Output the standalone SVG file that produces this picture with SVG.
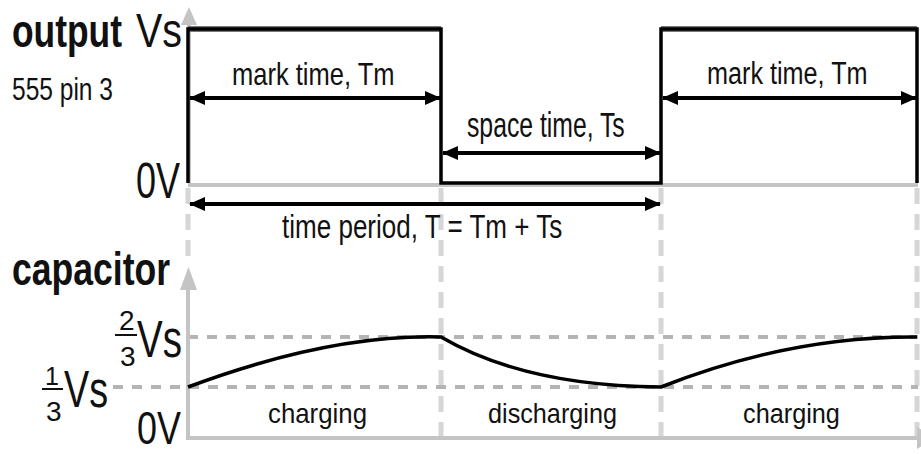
<svg xmlns="http://www.w3.org/2000/svg" width="921" height="454" viewBox="0 0 921 454">
<style>
text{font-family:"Liberation Sans",Arial,sans-serif;fill:#111}
.b{font-weight:bold}
.axis{stroke:#c4c4c4;stroke-width:4;fill:none}
.axfill{fill:#c4c4c4}
.vdash{stroke:#d6d6d6;stroke-width:5;stroke-dasharray:16 10;fill:none}
.hdash{stroke:#b4b4b4;stroke-width:4;stroke-dasharray:10 9;fill:none}
.wave{fill:none;stroke:#000;stroke-width:3.5;stroke-linejoin:miter}
.halo{fill:none;stroke:#777;stroke-width:6}
.dim{stroke:#000;stroke-width:4;fill:none}
</style>
<defs>
<marker id="ah" markerUnits="userSpaceOnUse" markerWidth="16" markerHeight="16" viewBox="0 0 16 16" refX="15" refY="8" orient="auto-start-reverse">
<path d="M0,1 L16,8 L0,15 Z" fill="#000"/>
</marker>
</defs>

<g id="grid">
<path class="vdash" d="M188,188 V266 M441,188 V436 M661,188 V436 M917,188 V436"/>
<path class="hdash" d="M188,337 H918 M113,387 H918"/>
</g>

<g id="output-axes">
<line class="axis" x1="188" y1="185" x2="918" y2="185" stroke-width="3"/>
<line class="axis" x1="189" y1="22" x2="189" y2="183"/>
<polygon class="axfill" points="181,25 197,25 189,7"/>
</g>

<g id="capacitor-axes">
<line class="axis" x1="188" y1="288" x2="188" y2="438"/>
<polygon class="axfill" points="180,290 197,290 188.5,267"/>
<line class="axis" x1="186" y1="438" x2="918" y2="438" stroke-width="5"/>
<polygon class="axfill" points="917,427 917,449 935,438"/>
</g>

<g id="output-wave">
<path class="halo" d="M188,29 H441 M661,29 H917"/>
<path class="wave" d="M188,183 V29 H441 V183 H661 V29 H917 V183"/>
</g>

<g id="capacitor-wave">
<path class="wave" stroke-width="4" d="M188,387 Q330,334 441,337 Q525,386 661,387 Q790,336 917,337"/>
</g>

<g id="connectors">
<line class="dim" x1="190" y1="98" x2="440" y2="98" marker-start="url(#ah)" marker-end="url(#ah)"/>
<line class="dim" x1="443" y1="153" x2="660" y2="153" marker-start="url(#ah)" marker-end="url(#ah)"/>
<line class="dim" x1="663" y1="98" x2="916" y2="98" marker-start="url(#ah)" marker-end="url(#ah)"/>
<line class="dim" x1="190" y1="204" x2="660" y2="204" marker-start="url(#ah)" marker-end="url(#ah)"/>
</g>

<g id="labels">
<text class="b" font-size="46" transform="translate(12,47) scale(0.769,1)">output</text>
<text font-size="49" transform="translate(136,47) scale(0.804,1)">Vs</text>
<text font-size="31" transform="translate(12,100) scale(0.792,1)">555 pin 3</text>
<text font-size="50" transform="translate(136,198) scale(0.72,1)">0V</text>
<text class="b" font-size="46" transform="translate(12,285) scale(0.773,1)">capacitor</text>
<text font-size="46" transform="translate(137,444) scale(0.78,1)">0V</text>

<g id="two-thirds">
<text x="119" y="330" font-size="28">2</text>
<line x1="115" y1="335" x2="137" y2="335" stroke="#111" stroke-width="2"/>
<text x="120" y="366" font-size="28">3</text>
<text font-size="51" transform="translate(137,357) scale(0.756,1)">Vs</text>
</g>
<g id="one-third">
<text x="45" y="385" font-size="25">1</text>
<line x1="42" y1="389" x2="63" y2="389" stroke="#111" stroke-width="2"/>
<text x="46" y="421" font-size="28">3</text>
<text font-size="51" transform="translate(64,407) scale(0.74,1)">Vs</text>
</g>

<text font-size="31" transform="translate(232,85) scale(0.823,1)">mark time, Tm</text>
<text font-size="31" transform="translate(707,84) scale(0.813,1)">mark time, Tm</text>
<text font-size="36" transform="translate(467,137) scale(0.688,1)">space time, Ts</text>
<text font-size="33" transform="translate(282,238) scale(0.789,1)">time period, T = Tm + Ts</text>
<text font-size="28" transform="translate(268,423) scale(0.922,1)">charging</text>
<text font-size="28" transform="translate(488,423) scale(0.901,1)">discharging</text>
<text font-size="28" transform="translate(743,423) scale(0.903,1)">charging</text>
</g>
</svg>
